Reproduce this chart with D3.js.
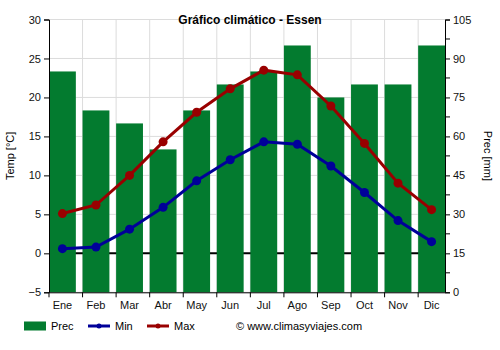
<!DOCTYPE html>
<html><head><meta charset="utf-8">
<script src="https://cdn.jsdelivr.net/npm/d3@7"></script>
<style>body{margin:0;background:#fff}svg{display:block;font-family:"Liberation Sans",Arial,sans-serif}</style>
</head><body>
<svg id="c" width="500" height="350"></svg>
<script>
const months = ["Ene","Feb","Mar","Abr","May","Jun","Jul","Ago","Sep","Oct","Nov","Dic"];
const prec = [85,70,65,55,70,80,85,95,75,80,80,95];
const tmin = [0.6,0.8,3.1,5.9,9.3,12.0,14.3,14.0,11.2,7.8,4.2,1.5];
const tmax = [5.1,6.2,10.0,14.3,18.1,21.1,23.5,22.9,18.9,14.1,9.0,5.6];
const tempTicks = [-5,0,5,10,15,20,25,30];
const precTicks = [0,15,30,45,60,75,90,105];

const svg = d3.select("#c");
const L=49,R=445,T=19.5,B=292.3;
const x = d3.scaleBand().domain(months).range([L,R]).paddingInner(0.2).paddingOuter(0);
const y = d3.scaleLinear().domain([-5,30]).range([B,T]);
const y2 = d3.scaleLinear().domain([0,105]).range([B,T]);
const cGreen="#037b2f", cBlue="#000099", cRed="#990000";

// grid
const g = svg.append("g");
g.selectAll(".hg").data(tempTicks).join("line")
 .attr("x1",L).attr("x2",R).attr("y1",d=>y(d)).attr("y2",d=>y(d))
 .attr("stroke","#dcdcdc").attr("stroke-width",1);
g.selectAll(".vg").data(months.slice(1)).join("line")
 .attr("x1",d=>x(d)).attr("x2",d=>x(d)).attr("y1",T).attr("y2",B)
 .attr("stroke","#dcdcdc").attr("stroke-width",1);
// zero line
g.append("line").attr("x1",L).attr("x2",R).attr("y1",y(0)).attr("y2",y(0))
 .attr("stroke","#000").attr("stroke-width",2);

// bars
svg.append("g").selectAll("rect").data(prec).join("rect")
 .attr("x",(d,i)=>x(months[i])).attr("width",x.bandwidth())
 .attr("y",d=>y2(d)).attr("height",d=>B-y2(d)).attr("fill",cGreen);

// lines
function series(data,color){
  const cx=(d,i)=>x(months[i])+x.bandwidth()/2;
  svg.append("path").datum(data)
   .attr("d",d3.line().x(cx).y(d=>y(d)))
   .attr("fill","none").attr("stroke",color).attr("stroke-width",3);
  svg.append("g").selectAll("circle").data(data).join("circle")
   .attr("cx",cx).attr("cy",d=>y(d)).attr("r",4.5).attr("fill",color);
}
series(tmin,cBlue);
series(tmax,cRed);

// axes
const fs="11px";
const ax = svg.append("g").attr("transform",`translate(${L},0)`)
 .call(d3.axisLeft(y).tickValues(tempTicks).tickSize(5).tickPadding(3));
const ax2 = svg.append("g").attr("transform",`translate(${R},0)`)
 .call(d3.axisRight(y2).tickValues(precTicks).tickSize(5).tickPadding(3));
const minor = d3.range(7.5,105,15);
svg.append("g").selectAll("line").data(minor).join("line")
 .attr("x1",R).attr("x2",R+5).attr("y1",d=>y2(d)).attr("y2",d=>y2(d)).attr("stroke","#000");
const ax3 = svg.append("g").attr("transform",`translate(0,${B})`)
 .call(d3.axisBottom(x).tickSize(0).tickPadding(9));
svg.append("g").selectAll("line").data(months.slice(1)).join("line")
 .attr("x1",d=>x(d)).attr("x2",d=>x(d)).attr("y1",B).attr("y2",B+5).attr("stroke","#000");
svg.append("line").attr("x1",L).attr("x2",L).attr("y1",B).attr("y2",B+5).attr("stroke","#000");
[ax,ax2,ax3].forEach(a=>{
  a.selectAll("text").attr("font-size",fs).attr("fill","#111").attr("font-family","Liberation Sans, Arial, sans-serif");
  a.selectAll("path,line").attr("stroke","#000");
});
ax3.select(".domain").attr("stroke","#000");

// titles
svg.append("text").attr("x",250).attr("y",24).attr("text-anchor","middle")
 .attr("font-size","12px").attr("font-weight","bold").text("Gráfico climático - Essen");
svg.append("text").attr("transform",`translate(14,${(T+B)/2}) rotate(-90)`)
 .attr("text-anchor","middle").attr("font-size","11px").text("Temp [°C]");
svg.append("text").attr("transform",`translate(484,${(T+B)/2}) rotate(90)`)
 .attr("text-anchor","middle").attr("font-size","11px").text("Prec [mm]");

// legend
const lg = svg.append("g");
lg.append("rect").attr("x",24).attr("y",321.5).attr("width",22).attr("height",9).attr("fill",cGreen);
lg.append("text").attr("x",51).attr("y",330).attr("font-size","11px").text("Prec");
lg.append("line").attr("x1",88).attr("x2",110).attr("y1",326).attr("y2",326).attr("stroke",cBlue).attr("stroke-width",3);
lg.append("circle").attr("cx",99).attr("cy",326).attr("r",2.5).attr("fill",cBlue);
lg.append("text").attr("x",115).attr("y",330).attr("font-size","11px").text("Min");
lg.append("line").attr("x1",147).attr("x2",169).attr("y1",326).attr("y2",326).attr("stroke",cRed).attr("stroke-width",3);
lg.append("circle").attr("cx",158).attr("cy",326).attr("r",2.5).attr("fill",cRed);
lg.append("text").attr("x",174).attr("y",330).attr("font-size","11px").text("Max");
lg.append("text").attr("x",236).attr("y",330).attr("font-size","11px").text("© www.climasyviajes.com");
</script>
</body></html>
